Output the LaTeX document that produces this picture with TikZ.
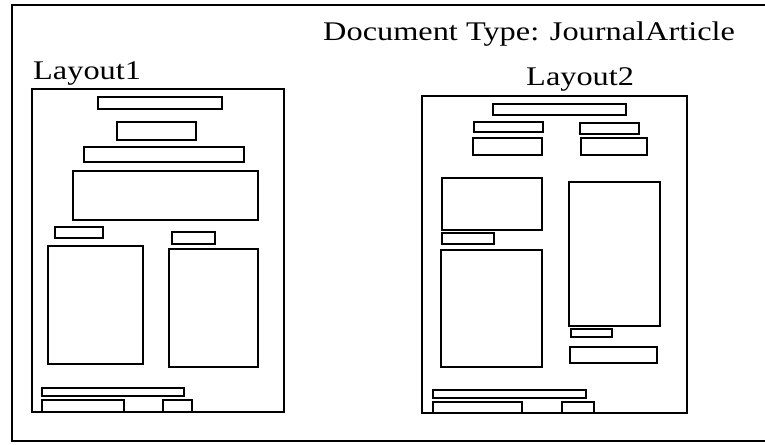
\documentclass[tikz,border=0pt]{standalone}
\usepackage{fontspec}
\setmainfont{Liberation Serif}[FakeStretch=1.2]
\begin{document}
\begin{tikzpicture}[x=0.03cm, y=-0.03cm, line join=miter, font=\fontsize{23}{27}\selectfont,
	frm/.style={line width=1.3pt}, blk/.style={line width=1.9pt}, lbl/.style={anchor=base west, inner sep=0}]
	\useasboundingbox (0,0) rectangle (765,444);
	\draw[frm] (765,5)--(12,5)--(12,441)--(765,441);
	\path (323,40) node[lbl](doctype){Document Type: JournalArticle}
	(33,79) node[lbl](lay1){Layout1}
	(526,85) node[lbl](lay2){Layout2};
	% Layout1
	\draw[frm] (32,89) rectangle (284,412);
	\foreach \a/\b/\c/\d in {98/97/222/109, 117/122/196/140, 84/147/244/162, 73/171/258/220,
		55/227/103/238, 172/232/215/244, 48/246/143/364, 169/249/258/367,
		42/388/184/396, 42/400/124/412, 163/400/192/412}
	\draw[blk] (\a,\b) rectangle (\c,\d);
	% Layout2
	\draw[frm] (422,96) rectangle (687,413);
	\foreach \a/\b/\c/\d in {493/104/626/115, 474/122/543/132, 580/123/639/134, 473/138/542/155,
		581/138/647/155, 442/178/542/230, 442/233/494/244, 441/250/542/367,
		569/182/660/326, 571/329/612/337, 570/347/657/363,
		433/390/586/398, 433/402/522/413, 562/402/594/413}
	\draw[blk] (\a,\b) rectangle (\c,\d);
\end{tikzpicture}
\end{document}
